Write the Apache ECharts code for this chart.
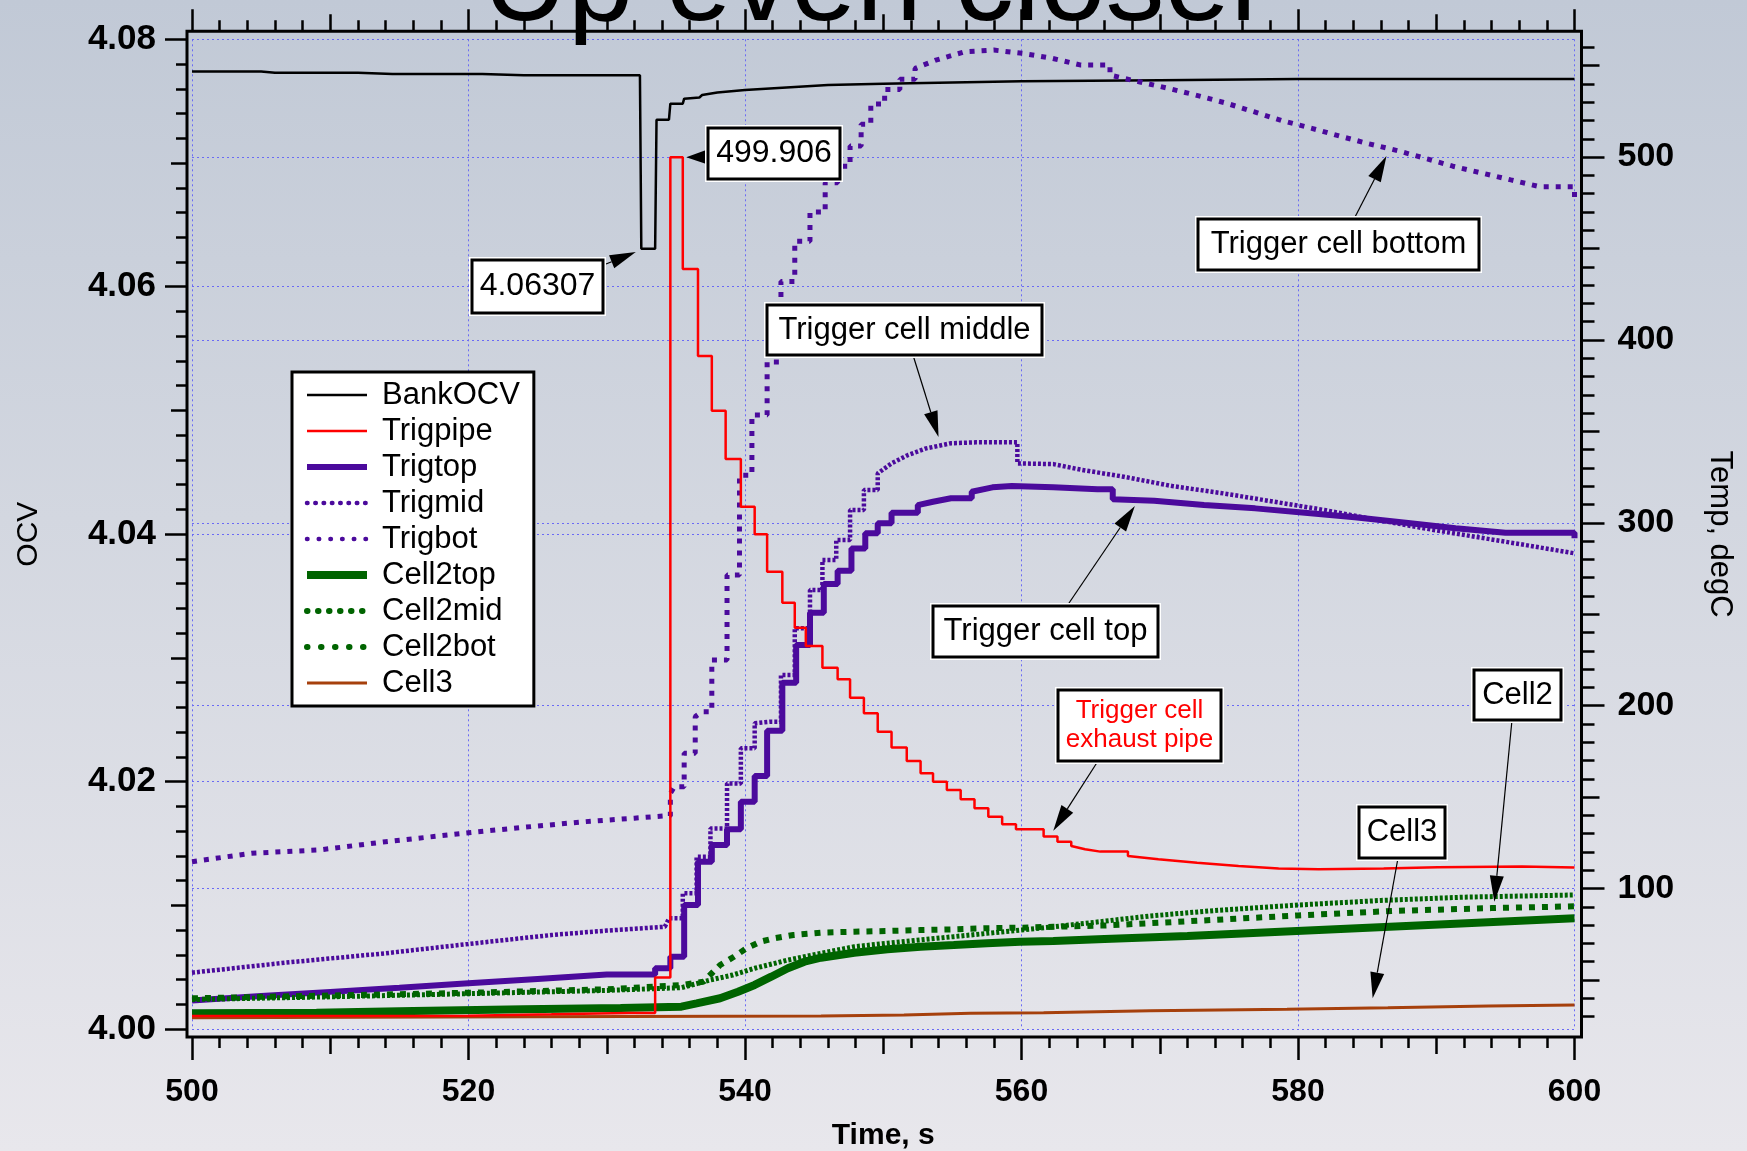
<!DOCTYPE html>
<html>
<head>
<meta charset="utf-8">
<script src="https://cdn.jsdelivr.net/npm/echarts@6/dist/echarts.min.js"></script>
<style>
html,body{margin:0;padding:0;}
#chart{width:1747px;height:1151px;}
</style>
</head>
<body>
<div id="chart"></div>
<script>
// ---------------- DATA ----------------
const ocvTicks  = [4.00, 4.02, 4.04, 4.06, 4.08];
const tempTicks = [100, 200, 300, 400, 500];
const timeTicks = [500, 520, 540, 560, 580, 600];
const seriesNames = ['BankOCV','Trigpipe','Trigtop','Trigmid','Trigbot','Cell2top','Cell2mid','Cell2bot','Cell3'];

// [time s, OCV V]
const bankOCV = [[500,4.0774],[505,4.0774],[506,4.0773],[512,4.0773],[514.5,4.0772],[521,4.0772],[524,4.0771],[532.4,4.0771],[532.5,4.06307],[533.5,4.06307],[533.6,4.0735],[534.5,4.0735],[534.6,4.0748],[535.5,4.0748],[535.6,4.0752],[536.7,4.0753],[536.9,4.0755],[538,4.0757],[540,4.0759],[543,4.0761],[546,4.0763],[550,4.0764],[555,4.0765],[560,4.0766],[570,4.0767],[580,4.0768],[600,4.0768]];

// [time s, temperature degC] - sampled values (each held until the next sample)
const trigpipe = [[500,30.3],[520,30.5],[526,31.2],[531.6,32.0],[533.5,51.3],[534.6,499.9],[535.5,438.8],[536.6,391.2],[537.6,361.3],[538.6,334.9],[539.7,308.8],[540.7,293.7],[541.6,273.3],[542.7,256.3],[543.6,242.6],[544.4,232.6],[545.6,220.8],[546.7,214.4],[547.6,204.4],[548.6,195.8],[549.6,185.8],[550.6,177.2],[551.7,169.7],[552.7,163.0],[553.6,158.4],[554.6,153.9],[555.6,148.8],[556.6,143.9],[557.6,139.3],[558.6,135.1],[559.6,132.4],[561.6,128.4],[562.6,125.6],[563.6,123.3],[564.6,121.5],[565.7,120.2],[567.7,117.8],[569.9,116.0],[572.7,114.1],[575.7,112.3],[578.6,111.0],[581.5,110.5],[586.2,110.9],[590.1,111.6],[596.2,112.0],[600,111.5]];

const trigtop = [[500,38.8],[505,41.2],[510,43.5],[515,45.8],[520,48.2],[525,50.6],[530,53.0],[533.5,56.4],[534.6,62.7],[535.6,91.0],[536.6,114.7],[537.6,123.8],[538.7,132.4],[539.7,147.5],[540.7,161.5],[541.6,186.3],[542.7,212.6],[543.7,233.2],[544.7,250.8],[545.7,266.5],[546.7,273.8],[547.7,286.0],[548.7,294.3],[549.6,299.7],[550.6,305.5],[552.5,309.7],[553.6,311.5],[554.9,313.4],[556.4,317.0],[557.9,319.4],[559.3,320.1],[562.3,319.4],[565.5,318.3],[566.6,312.9],[569.6,312.1],[573.2,309.7],[576.9,307.9],[580.5,305.5],[584.1,303.0],[587.8,300.0],[591.4,297.0],[595.0,294.6],[600,291.5]];

const trigmid = [[500,54.0],[506.8,59.5],[514,64.6],[520,69.7],[526,74.6],[530,77.0],[534.2,79.1],[534.5,83.7],[535.5,97.4],[536.5,117.4],[537.5,132.9],[538.7,157.5],[539.7,176.7],[540.7,190.4],[541.8,191.2],[542.6,216.8],[543.6,242.3],[544.7,263.3],[545.6,279.7],[546.6,290.6],[547.6,307.0],[548.6,318.0],[549.6,327.0],[550.6,332.5],[551.8,337.1],[553.1,340.7],[554.9,343.5],[556.7,344.0],[559.7,332.5],[562.3,332.1],[564.4,328.9],[567.4,325.2],[570.9,320.1],[574.6,316.1],[578.3,311.5],[581.9,307.0],[585.5,301.9],[589.1,297.0],[592.8,292.4],[596.4,287.9],[600,283.3]];

const trigbot = [[500,114.7],[504.3,119.3],[509.2,121.1],[514,125.6],[520,130.5],[523.7,133.3],[528.5,136.6],[532,138.5],[534.2,139.7],[534.6,152.0],[534.9,155.7],[535.6,174.0],[536.4,194.0],[536.9,196.7],[537.6,225.0],[538.7,271.5],[539.6,326.0],[540.5,359.0],[541.6,388.0],[542.6,432.0],[543.6,454.0],[544.7,470.0],[545.8,486.0],[546.7,495.0],[547.6,506.0],[548.4,518.0],[549.1,529.0],[550.1,537.0],[551.2,542.5],[552.3,548.5],[553.8,553.0],[555.9,557.6],[558,558.5],[560.1,556.7],[562.2,554.0],[564.3,550.3],[566.4,544.8],[568.5,541.2],[570.6,537.6],[572.6,533.9],[574.8,529.5],[576.8,524.8],[578.8,520.0],[581,515.7],[583,511.5],[585,507.5],[587.2,503.5],[589.2,499.3],[591.2,495.0],[593.4,491.1],[595.4,487.5],[597.5,483.8],[600,477.4]];

const cell2top = [[500,31.8],[509,32.1],[516,33.0],[524,34.0],[531,34.7],[535.4,35.4],[536.5,37.2],[538.2,40.0],[539.5,43.6],[540.7,47.3],[541.9,51.8],[543.1,56.4],[544.3,60.0],[545.5,62.2],[547.9,64.9],[550.3,66.8],[552.7,68.2],[555.1,69.1],[557.5,70.1],[559.9,70.9],[562.3,71.3],[566,72.4],[572,74.0],[581.5,77.3],[591,80.6],[600,83.7]];

const cell2mid = [[500,39.3],[510,40.8],[520,42.5],[530,44.3],[535.4,45.8],[537.5,50.0],[539.1,52.7],[540.7,56.4],[543.1,60.9],[545.5,64.6],[547.9,68.2],[550.3,70.1],[552.7,71.9],[555.1,73.7],[557.5,75.5],[559.9,77.3],[562.3,79.1],[565.7,81.9],[569.3,85.0],[574,88.0],[580,91.0],[586,93.5],[592,95.3],[600,96.5]];

const cell2bot = [[500,40.0],[510,41.5],[520,43.0],[530,44.9],[535.5,47.3],[537,49.1],[538.2,58.2],[539.2,62.7],[540.1,67.3],[541.1,70.9],[542.1,72.8],[543.5,74.6],[545.5,75.9],[547.9,76.4],[550.3,76.8],[552.7,77.3],[555.1,77.7],[557.5,78.3],[559.9,78.6],[562.3,79.1],[566,79.8],[570,81.3],[575,83.3],[580,85.3],[587,87.8],[594,89.3],[600,90.3]];

const cell3 = [[500,29.4],[524.3,29.9],[545.5,30.3],[551.5,30.9],[556.3,31.8],[561.6,32.1],[569.3,33.2],[579.2,34.0],[586.5,34.8],[593.8,35.8],[600,36.3]];

// annotation texts and the data point each arrow points at (axis 0 = OCV, 1 = Temp)
const annotations = [
  {text:'499.906', axis:1, tip:[535.75, 499.9]},
  {text:'4.06307', axis:0, tip:[532.1, 4.0628]},
  {text:'Trigger cell bottom', axis:1, tip:[586.4, 500.6]},
  {text:'Trigger cell middle', axis:1, tip:[554.0, 346.9]},
  {text:'Trigger cell top', axis:1, tip:[568.2, 309.2]},
  {text:'Trigger cell\nexhaust pipe', axis:1, tip:[562.3, 131.6]},
  {text:'Cell2', axis:1, tip:[594.2, 92.8]},
  {text:'Cell3', axis:1, tip:[585.4, 40.0]}
];

// ---------------- LAYOUT / STYLE ----------------
const FONT = '"Liberation Sans", Arial, Helvetica, sans-serif';
const G = {left:192, right:172.5, top:39.3, bottom:122};
const OFF = {left:5, right:7, top:8, bottom:8};
const annLayout = [
  {box:[708,128,132,51], from:[708,157], head:20, size:32},
  {box:[472,260,131,53], from:[606,264], head:26, size:32},
  {box:[1198,219,281,51], from:[1354,219], head:26, size:31},
  {box:[767,305,275,50], from:[913,355], head:26, size:31},
  {box:[933,606,225,51], from:[1067,606], head:26, size:31},
  {box:[1058,690,163,71], from:[1098,761], head:26, size:26, color:'#ff0000', lh:29},
  {box:[1474,670,87,50], from:[1512,720], head:26, size:31},
  {box:[1359,807,86,51], from:[1398,858], head:26, size:31}
];
const GRIDC = '#6a6af5';
const PURPLE = '#4b0a9c';
const GREEN = '#006400';
const BROWN = '#a6400c';

// legend icon styles (as drawn in the reference key)
const legendLine = {
  BankOCV:{width:2.5}, Trigpipe:{width:2.5}, Trigtop:{width:6},
  Trigmid:{width:4.5, type:[0.5,7.8], cap:'round'},
  Trigbot:{width:4.5, type:[0.5,11.2], cap:'round'},
  Cell2top:{width:8},
  Cell2mid:{width:6, type:[0.5,10.5], cap:'round'},
  Cell2bot:{width:6, type:[0.5,13.5], cap:'round'},
  Cell3:{width:3}
};

// draw held samples: a vertical riser is drawn where the value jumps by more than `thr`
function held(arr, thr) {
  const out = [arr[0]];
  for (let i = 1; i < arr.length; i++) {
    if (Math.abs(arr[i][1] - arr[i-1][1]) > thr) out.push([arr[i][0], arr[i-1][1]]);
    out.push(arr[i]);
  }
  return out;
}

const tickStyle = {color:'#000', width:2.5};
const hideLabel = {show:false};
const mediumTemp = [];
for (let v = 50; v <= 550; v += 100) mediumTemp.push(v);
const minorTemp = [];
for (let v = 30; v <= 560; v += 10) minorTemp.push(v);

const chart = echarts.init(document.getElementById('chart'), null, {renderer:'canvas'});

function xAx(pos, interval, len, opts) {
  return Object.assign({
    type:'value', min:500, max:600, interval:interval, position:pos, offset:(pos==='top'?OFF.top:OFF.bottom),
    axisLine:{show:false, onZero:false}, axisTick:{show:true, inside:false, length:len, lineStyle:tickStyle},
    axisLabel:{show:false}, splitLine:{show:false}
  }, opts || {});
}

const lineBase = {type:'line', showSymbol:false, symbol:'none', animation:false, silent:true, xAxisIndex:0};

const option = {
  animation:false,
  backgroundColor:{type:'linear', x:0, y:0, x2:0, y2:1, colorStops:[
    {offset:0, color:'#c1c9d6'}, {offset:0.45, color:'#d3d7e0'}, {offset:1, color:'#e8e7ec'}]},
  grid:{left:G.left, right:G.right, top:G.top, bottom:G.bottom, containLabel:false, outerBoundsMode:'none'},
  legend:{
    orient:'vertical', left:292, top:372, z:12,
    backgroundColor:'#ffffff', borderColor:'#000', borderWidth:3, borderRadius:0,
    padding:[5,14,5,11], itemGap:0, itemWidth:60, itemHeight:2,
    itemStyle:{opacity:0, color:'rgba(0,0,0,0)', borderWidth:0},
    textStyle:{fontFamily:FONT, fontSize:31, color:'#000', lineHeight:36, padding:[0,0,0,10]},
    data: seriesNames.map(n => ({name:n, lineStyle:legendLine[n]}))
  },
  xAxis:[
    xAx('bottom', 20, 23, {
      axisLabel:{show:true, margin:39, fontFamily:FONT, fontSize:32, fontWeight:'bold', color:'#000'},
      splitLine:{show:true, lineStyle:{color:GRIDC, type:[2,3], width:1}},
      name:'Time, s', nameLocation:'middle', nameGap:84,
      nameTextStyle:{fontFamily:FONT, fontSize:30, fontWeight:'bold', color:'#000'}
    }),
    xAx('bottom', 10, 17, {minorTick:{show:true, splitNumber:5, length:11, lineStyle:tickStyle}}),
    xAx('top', 20, 22),
    xAx('top', 10, 17, {minorTick:{show:true, splitNumber:5, length:11, lineStyle:tickStyle}})
  ],
  yAxis:[
    {type:'value', min:4.00, max:4.08, interval:0.02, position:'left', offset:OFF.left,
     axisLine:{show:false, onZero:false}, axisTick:{show:true, length:22, lineStyle:tickStyle},
     axisLabel:{show:true, margin:31, fontFamily:FONT, fontSize:35, fontWeight:'bold', color:'#000',
       padding:[6,0,0,0], formatter:(v)=>v.toFixed(2)},
     splitLine:{show:true, lineStyle:{color:GRIDC, type:[2,3], width:1}},
     name:'OCV', nameLocation:'middle', nameGap:143, nameRotate:90,
     nameTextStyle:{fontFamily:FONT, fontSize:30, color:'#000'}},
    {type:'value', min:23.2, max:564.4, position:'right', offset:OFF.right,
     axisLine:{show:false, onZero:false},
     axisTick:{show:true, length:23, lineStyle:tickStyle, customValues:tempTicks},
     axisLabel:{show:true, margin:36, fontFamily:FONT, fontSize:34, fontWeight:'bold', color:'#000',
       padding:[4,0,0,0], customValues:tempTicks},
     splitLine:{show:false},
     name:'Temp, degC', nameLocation:'middle', nameGap:123, nameRotate:-90,
     nameTextStyle:{fontFamily:FONT, fontSize:31, color:'#000'}},
    {type:'value', min:4.00, max:4.08, interval:0.01, position:'left', offset:OFF.left,
     axisLine:{show:false, onZero:false}, axisTick:{show:true, length:16, lineStyle:tickStyle},
     minorTick:{show:true, splitNumber:5, length:11, lineStyle:tickStyle},
     axisLabel:hideLabel, splitLine:{show:false}},
    {type:'value', min:23.2, max:564.4, position:'right', offset:OFF.right,
     axisLine:{show:false, onZero:false}, axisTick:{show:true, length:18, lineStyle:tickStyle, customValues:mediumTemp},
     axisLabel:{show:false, customValues:mediumTemp}, splitLine:{show:false}},
    {type:'value', min:23.2, max:564.4, position:'right', offset:OFF.right,
     axisLine:{show:false, onZero:false}, axisTick:{show:true, length:13, lineStyle:tickStyle, customValues:minorTemp},
     axisLabel:{show:false, customValues:minorTemp}, splitLine:{show:false}}
  ],
  series:[
    Object.assign({}, lineBase, {name:'BankOCV', yAxisIndex:0, data:bankOCV, z:3,
      lineStyle:{color:'#000', width:2.5}, itemStyle:{color:'#000'}}),
    Object.assign({}, lineBase, {name:'Trigpipe', yAxisIndex:1, data:held(trigpipe, 2), z:4,
      lineStyle:{color:'#ff0000', width:2.5}, itemStyle:{color:'#ff0000'}}),
    Object.assign({}, lineBase, {name:'Trigtop', yAxisIndex:1, data:held(trigtop, 3), z:3,
      lineStyle:{color:PURPLE, width:6}, itemStyle:{color:PURPLE}}),
    Object.assign({}, lineBase, {name:'Trigmid', yAxisIndex:1, data:held(trigmid, 6), z:3,
      lineStyle:{color:PURPLE, width:4.5, type:[3,2]}, itemStyle:{color:PURPLE}}),
    Object.assign({}, lineBase, {name:'Trigbot', yAxisIndex:1, data:held(trigbot, 5), z:3,
      lineStyle:{color:PURPLE, width:5, type:[5,7]}, itemStyle:{color:PURPLE}}),
    Object.assign({}, lineBase, {name:'Cell2top', yAxisIndex:1, data:cell2top, z:3,
      lineStyle:{color:GREEN, width:8}, itemStyle:{color:GREEN}}),
    Object.assign({}, lineBase, {name:'Cell2mid', yAxisIndex:1, data:cell2mid, z:3,
      lineStyle:{color:GREEN, width:5, type:[3,2]}, itemStyle:{color:GREEN}}),
    Object.assign({}, lineBase, {name:'Cell2bot', yAxisIndex:1, data:cell2bot, z:3,
      lineStyle:{color:GREEN, width:6, type:[6,7]}, itemStyle:{color:GREEN}}),
    Object.assign({}, lineBase, {name:'Cell3', yAxisIndex:1, data:cell3, z:3,
      lineStyle:{color:BROWN, width:3}, itemStyle:{color:BROWN},
      markLine:{silent:true, symbol:['none','none'], animation:false, z:1,
        label:{show:false}, lineStyle:{color:GRIDC, type:[2,3], width:1},
        data: tempTicks.map(v => ({yAxis:v}))}})
  ]
};
chart.setOption(option);

// ---------------- DECORATION: frame, title, annotations ----------------
const W = 1747, H = 1151;
const gx0 = G.left, gy0 = G.top, gx1 = W - G.right, gy1 = H - G.bottom;
const graphics = [];
graphics.push({type:'rect', z:15, silent:true,
  shape:{x:gx0-OFF.left, y:gy0-OFF.top, width:(gx1+OFF.right)-(gx0-OFF.left), height:(gy1+OFF.bottom)-(gy0-OFF.top)},
  style:{fill:null, stroke:'#000', lineWidth:3}});
graphics.push({type:'text', z:30, silent:true, x:876, y:-13,
  style:{text:'Up even closer', font:'118px ' + FONT, fill:'#000', align:'center', verticalAlign:'middle'}});

annotations.forEach((a, i) => {
  const L = annLayout[i];
  const tip = chart.convertToPixel({xAxisIndex:0, yAxisIndex:a.axis}, a.tip);
  const [bx, by, bw, bh] = L.box;
  const from = L.from;
  const dx = tip[0]-from[0], dy = tip[1]-from[1];
  const len = Math.sqrt(dx*dx+dy*dy);
  const ux = dx/len, uy = dy/len, nx = -uy, ny = ux;
  const hl = L.head, hw = 7;
  const base = [tip[0]-ux*hl, tip[1]-uy*hl];
  graphics.push({type:'line', z:20, silent:true,
    shape:{x1:from[0], y1:from[1], x2:base[0], y2:base[1]},
    style:{stroke:'#000', lineWidth:1.2}});
  graphics.push({type:'polygon', z:20, silent:true,
    shape:{points:[tip, [base[0]+nx*hw, base[1]+ny*hw], [base[0]-nx*hw, base[1]-ny*hw]]},
    style:{fill:'#000'}});
  graphics.push({type:'rect', z:21, silent:true,
    shape:{x:bx-3, y:by-3, width:bw+6, height:bh+6}, style:{fill:'#ffffff'}});
  graphics.push({type:'rect', z:22, silent:true,
    shape:{x:bx, y:by, width:bw, height:bh}, style:{fill:'#ffffff', stroke:'#000', lineWidth:3}});
  graphics.push({type:'text', z:23, silent:true, x:bx+bw/2, y:by+bh/2,
    style:{text:a.text, font:L.size + 'px ' + FONT, fill:L.color || '#000', align:'center', verticalAlign:'middle', lineHeight:L.lh || L.size}});
});
chart.setOption({graphic:{elements:graphics}});
</script>
</body>
</html>
